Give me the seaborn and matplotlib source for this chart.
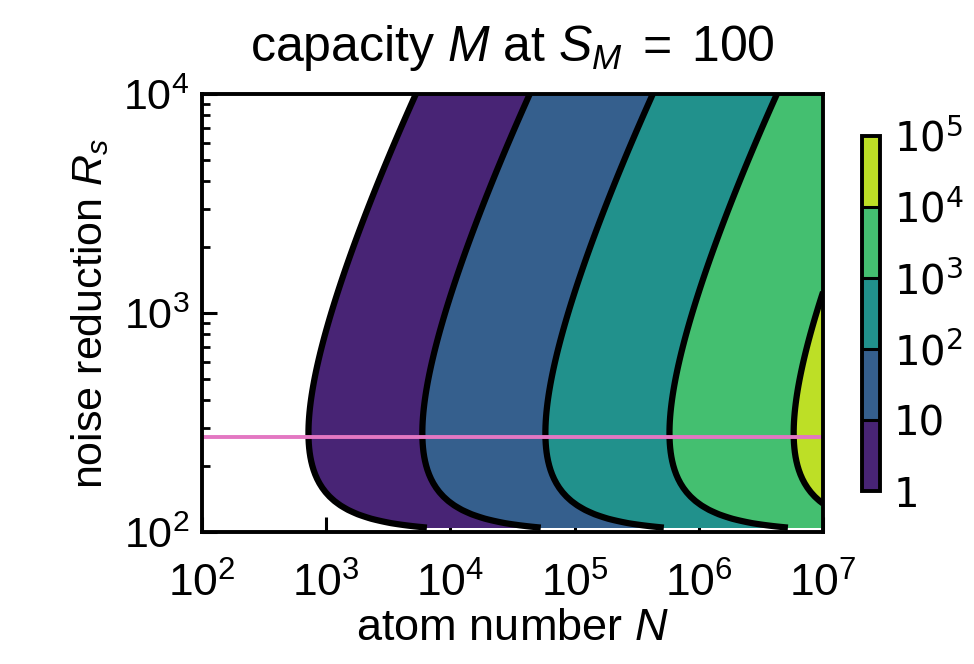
import numpy as np
import matplotlib
matplotlib.use("Agg")
import matplotlib.pyplot as plt
import seaborn as sns
from matplotlib.colors import LogNorm
from matplotlib.ticker import LogLocator, NullLocator, FixedLocator, NullFormatter

# boundary of the M = 1 region (noise reduction R_s, atom number N)
boundary_R = 10 ** np.array([4.000, 3.356, 3.128, 2.900, 2.685, 2.434, 2.237, 2.146, 2.087, 2.041, 2.023])
boundary_N = 10 ** np.array([3.715, 3.264, 3.127, 2.990, 2.885, 2.837, 2.926, 3.055, 3.272, 3.514, 3.739])
S_M = 100            # signal level in the title, pole of the boundary
capacity_offset = 0.24   # levels are not spaced exactly one decade apart in N
R_opt = 272          # pink line
levels = [1, 10, 1e2, 1e3, 1e4, 1e5]
cbar_labels = ["1", "10", "$10^2$", "$10^3$", "$10^4$", "$10^5$"]

# smooth description of the read boundary: log N1 = a0 + a1 u + a2 u^2 - q log(R - S_M)
u = np.log10(boundary_R)
A = np.column_stack([np.ones_like(u), u, u ** 2, -np.log10(boundary_R - S_M)])
coef, *_ = np.linalg.lstsq(A, np.log10(boundary_N), rcond=None)

N = np.logspace(2, 7, 400)
R = np.logspace(2, 4, 100)
NN, RR = np.meshgrid(N, R)
with np.errstate(divide="ignore", invalid="ignore"):
    uu = np.log10(RR)
    logN1 = coef[0] + coef[1] * uu + coef[2] * uu ** 2 - coef[3] * np.log10(RR - S_M)
    M = NN * (1 + capacity_offset) / 10 ** logN1 - capacity_offset
M = np.where(RR > S_M, M, np.nan)

sns.set_style("ticks")
plt.rcParams["font.family"] = ["Liberation Sans", "DejaVu Sans"]
plt.rcParams["mathtext.fontset"] = "custom"
plt.rcParams["mathtext.rm"] = "Liberation Sans"
plt.rcParams["mathtext.it"] = "Liberation Sans:italic"
plt.rcParams["mathtext.bf"] = "Liberation Sans:bold"
for key in ["text.color", "axes.labelcolor", "xtick.color", "ytick.color", "axes.edgecolor"]:
    plt.rcParams[key] = "black"

fig = plt.figure(figsize=(9.74, 6.64), dpi=100)
ax = fig.add_axes([0.2074, 0.1988, 0.6376, 0.6596])
cax = fig.add_axes([0.885, 0.2605, 0.0185, 0.5346])

norm = LogNorm(vmin=1, vmax=1e5)
cf = ax.contourf(NN, RR, M, levels=levels, cmap="viridis", norm=norm)
ax.contour(NN, RR, M, levels=levels, colors="k", linewidths=4.5)
ax.axhline(R_opt, color="#e377c2", lw=2.8, zorder=3)

ax.set_xscale("log")
ax.set_yscale("log")
ax.set_xlim(1e2, 1e7)
ax.set_ylim(1e2, 1e4)
ax.xaxis.set_major_locator(LogLocator(base=10, numticks=12))
ax.xaxis.set_minor_locator(NullLocator())
ax.yaxis.set_minor_locator(LogLocator(base=10, subs=np.arange(2, 10), numticks=12))
ax.yaxis.set_minor_formatter(NullFormatter())
ax.tick_params(which="major", direction="in", length=11, width=2.2, labelsize=31)
ax.tick_params(axis="x", which="major", pad=22, labelsize=32)
ax.tick_params(axis="y", which="major", pad=9)
ax.tick_params(which="minor", direction="in", length=6, width=2.0)
for sp in ax.spines.values():
    sp.set_linewidth(2.8)
    sp.set_zorder(5)

ax.set_title(r"capacity $M$ at $S_M\;=\;100$", fontsize=36, pad=24)
ax.set_xlabel("atom number $N$", fontsize=32.5, labelpad=2)
ax.set_ylabel("noise reduction $R_s$", fontsize=31, labelpad=9)

cbar = fig.colorbar(cf, cax=cax, drawedges=True)
cbar.outline.set_linewidth(2.8)
cbar.outline.set_edgecolor("black")
cbar.dividers.set_linewidth(2.2)
cbar.dividers.set_color("black")
cbar.set_ticks(levels)
cbar.set_ticklabels(cbar_labels)
cminor = [10 ** (k + f) for k in range(5) for f in (0.25, 0.5, 0.75)]
cax.yaxis.set_minor_locator(FixedLocator(cminor))
cax.yaxis.set_minor_formatter(NullFormatter())
cax.tick_params(which="major", direction="in", length=0, labelsize=29, pad=10, right=True, left=False)
cax.tick_params(which="minor", direction="in", length=5, width=1.8, right=True, left=False)
for lab in cax.get_yticklabels():
    lab.set_family("DejaVu Sans")
    lab.set_math_fontfamily("dejavusans")

fig.savefig("out.png", dpi=100)
